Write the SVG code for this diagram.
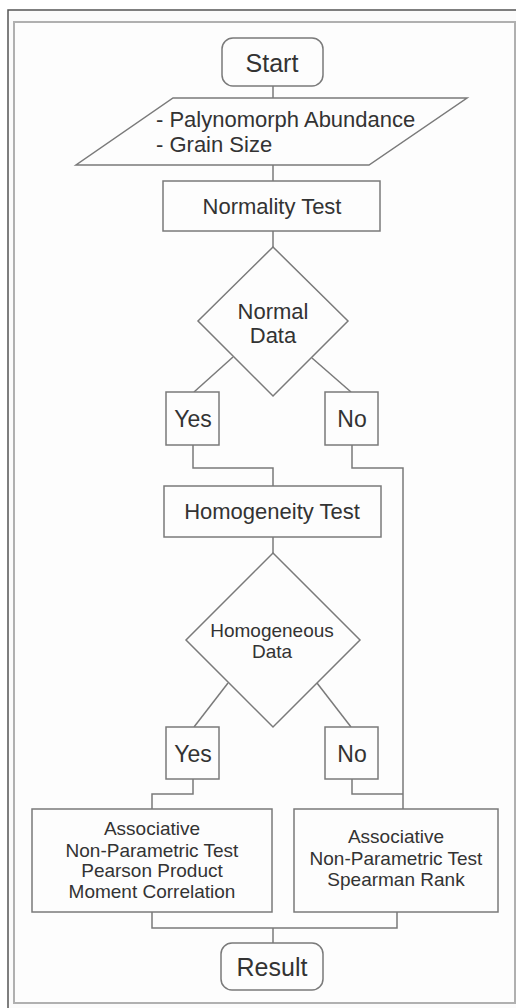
<svg xmlns="http://www.w3.org/2000/svg" width="516" height="1008" viewBox="0 0 516 1008">
<style>
.n{fill:#fdfdfd;stroke:#7a7a7a;stroke-width:1.5}
.c{fill:none;stroke:#7a7a7a;stroke-width:1.5}
.t{font-family:"Liberation Sans",Arial,sans-serif;fill:#333;text-anchor:middle}
.l{font-size:22px}
.s{font-size:19px}
.b{font-size:25px}
</style>
<rect x="0" y="0" width="516" height="1008" fill="#ffffff"/>
<rect x="8" y="10" width="520" height="1010" fill="#fbfbfb" stroke="#555" stroke-width="1.5"/>
<rect x="14" y="22" width="501" height="981" fill="#fdfdfd" stroke="#b0b0b0" stroke-width="2"/>
<g id="connectors">
<line class="c" x1="273" y1="86" x2="273" y2="98"/>
<line class="c" x1="273" y1="165" x2="273" y2="181"/>
<line class="c" x1="273" y1="231" x2="273" y2="247"/>
<line class="c" x1="233" y1="357" x2="194" y2="392"/>
<line class="c" x1="312" y1="358" x2="351" y2="392"/>
<polyline class="c" points="193,445 193,468 273,468 273,486"/>
<polyline class="c" points="352,445 352,468 403,468 403,809"/>
<line class="c" x1="273" y1="537" x2="273" y2="553"/>
<line class="c" x1="228" y1="683" x2="194" y2="727"/>
<line class="c" x1="317" y1="683" x2="351" y2="727"/>
<polyline class="c" points="193,779 193,794 152,794 152,809"/>
<polyline class="c" points="352,779 352,794 403,794"/>
<polyline class="c" points="152,912 152,928 397,928 397,912"/>
<line class="c" x1="273" y1="928" x2="273" y2="943"/>
</g>
<g id="start">
<rect class="n" x="222" y="38" width="101" height="48" rx="11"/>
<text class="t b" x="272" y="72">Start</text>
</g>
<g id="input">
<polygon class="n" points="173,98 467,98 369,165 76,165"/>
<text class="t l" x="156" y="127" text-anchor="start" style="text-anchor:start">- Palynomorph Abundance</text>
<text class="t l" x="156" y="152" style="text-anchor:start">- Grain Size</text>
</g>
<g id="normality">
<rect class="n" x="163" y="181" width="217" height="50"/>
<text class="t l" x="272" y="214">Normality Test</text>
</g>
<g id="normal-data">
<polygon class="n" points="273,247 348,321 273,396 198,321"/>
<text class="t l" x="273" y="319">Normal</text>
<text class="t l" x="273" y="343">Data</text>
</g>
<g id="yes1">
<rect class="n" x="166" y="392" width="53" height="53"/>
<text class="t" x="193" y="427" style="font-size:23px">Yes</text>
</g>
<g id="no1">
<rect class="n" x="325" y="392" width="53" height="53"/>
<text class="t" x="352" y="427" style="font-size:23px">No</text>
</g>
<g id="homogeneity">
<rect class="n" x="164" y="486" width="217" height="51"/>
<text class="t l" x="272" y="519">Homogeneity Test</text>
</g>
<g id="homogeneous-data">
<polygon class="n" points="273,553 360,640 273,727 186,640"/>
<text class="t s" x="272" y="637">Homogeneous</text>
<text class="t s" x="272" y="658">Data</text>
</g>
<g id="yes2">
<rect class="n" x="166" y="727" width="53" height="52"/>
<text class="t" x="193" y="762" style="font-size:23px">Yes</text>
</g>
<g id="no2">
<rect class="n" x="325" y="727" width="53" height="52"/>
<text class="t" x="352" y="762" style="font-size:23px">No</text>
</g>
<g id="pearson">
<rect class="n" x="32" y="809" width="240" height="103"/>
<text class="t s" x="152" y="835">Associative</text>
<text class="t s" x="152" y="857">Non-Parametric Test</text>
<text class="t s" x="152" y="877">Pearson Product</text>
<text class="t s" x="152" y="898">Moment Correlation</text>
</g>
<g id="spearman">
<rect class="n" x="294" y="809" width="204" height="103"/>
<text class="t s" x="396" y="843">Associative</text>
<text class="t s" x="396" y="865">Non-Parametric Test</text>
<text class="t s" x="396" y="886">Spearman Rank</text>
</g>
<g id="result">
<rect class="n" x="221" y="943" width="102" height="47" rx="11"/>
<text class="t b" x="272" y="976">Result</text>
</g>
</svg>
